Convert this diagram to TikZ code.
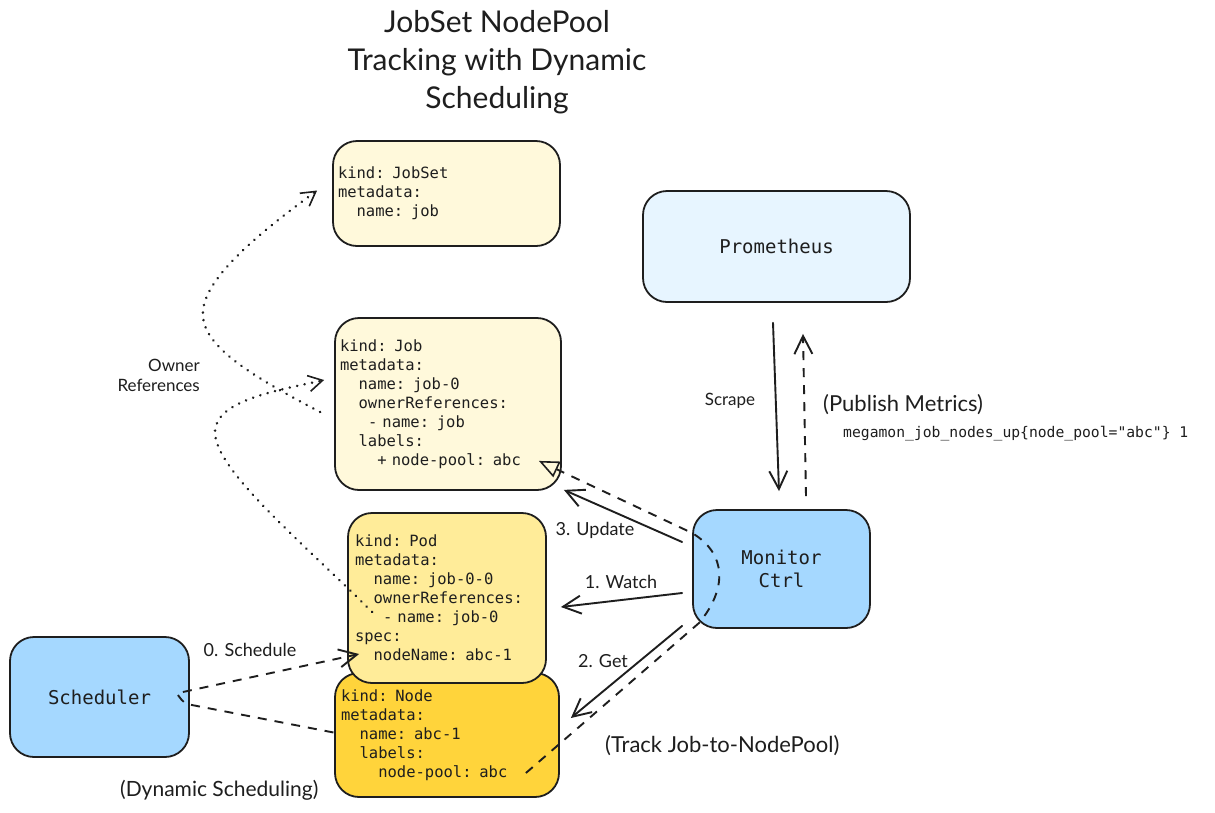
\documentclass[tikz,border=0pt]{standalone}
\usepackage{fontspec}
\setmainfont{Lato}
\setmonofont{DejaVu Sans Mono}
\usetikzlibrary{arrows.meta,calc}
\definecolor{ink}{HTML}{1E1E1E}
\definecolor{paleY}{HTML}{FFF9DB}
\definecolor{midY}{HTML}{FFEC99}
\definecolor{deepY}{HTML}{FFD43B}
\definecolor{paleB}{HTML}{E7F5FF}
\definecolor{midB}{HTML}{A5D8FF}
\newcommand{\indt}[1]{\phantom{#1}}
\tikzset{
  box/.style={draw=ink, line width=1.8pt, rounded corners=24pt, text=ink,
    font=\ttfamily\fontsize{15.5}{19}\selectfont, align=left, inner ysep=0pt},
  cbox/.style={draw=ink, line width=1.8pt, rounded corners=24pt, text=ink,
    font=\ttfamily\fontsize{19}{23.5}\selectfont, align=center, inner sep=0pt},
  hand/.style={text=ink, inner sep=0pt, font=\fontsize{18}{22}\selectfont},
  bighand/.style={text=ink, inner sep=0pt, font=\fontsize{22}{26}\selectfont},
  arr/.style={draw=ink, line width=1.9pt, line cap=round,
    -{Straight Barb[length=18pt,width=18pt,line width=1.9pt]}},
  dasharr/.style={draw=ink, line width=1.9pt, dash pattern=on 9pt off 8pt,
    -{Straight Barb[length=18pt,width=18pt,line width=1.9pt]}},
  dashline/.style={draw=ink, line width=1.9pt, dash pattern=on 9pt off 8pt},
  dotarr/.style={draw=ink, line width=2.7pt, line cap=round, dash pattern=on 0.1pt off 7.5pt,
    -{Straight Barb[length=14pt,width=16pt,line width=1.6pt]}},
}
\begin{document}
\begin{tikzpicture}[x=1pt,y=-1pt]
\useasboundingbox[fill=white] (0,0) rectangle (1215,812);

% title
\node[text=ink, align=center, font=\fontsize{30}{38}\selectfont] (title) at (497,62)
  {JobSet NodePool\\Tracking with Dynamic\\Scheduling};

% boxes
\node[box, fill=paleY, minimum height=105pt, text width=217pt, inner xsep=5pt] (jobset) at (446.5,193.5)
  {kind: JobSet\\metadata:\\\indt{xx}name: job};
\node[box, fill=paleY, minimum height=172pt, text width=216pt, inner xsep=5pt] (job) at (448,404)
  {kind: Job\\metadata:\\\indt{xx}name: job-0\\\indt{xx}ownerReferences:\\\indt{xxx}- name: job\\\indt{xx}labels:\\\indt{xxxx}+ node-pool: abc};
\node[box, fill=deepY, minimum height=124pt, text width=212pt, inner xsep=6pt] (knode) at (447,735)
  {kind: Node\\metadata:\\\indt{xx}name: abc-1\\\indt{xx}labels:\\\indt{xxxx}node-pool: abc};
\node[box, fill=midY, minimum height=170pt, text width=184pt, inner xsep=7pt] (pod) at (447,598)
  {kind: Pod\\metadata:\\\indt{xx}name: job-0-0\\\indt{xx}ownerReferences:\\\indt{xxx}- name: job-0\\spec:\\\indt{xx}nodeName: abc-1};
\node[cbox, fill=paleB, minimum width=267pt, minimum height=111pt] (prom) at (776.5,246.5) {Prometheus};
\node[cbox, fill=midB, minimum width=177pt, minimum height=118pt] (mon) at (781.5,569) {Monitor\\Ctrl};
\node[cbox, fill=midB, minimum width=179pt, minimum height=120pt] (sched) at (99.5,697) {Scheduler};

% Prometheus <-> Monitor
\draw[arr] ($(prom.south)+(-3.5,20)$) -- ($(mon.north)+(-2.5,-18)$);
\draw[dasharr] ($(mon.north)+(24.5,-13)$) -- ($(prom.south)+(26.5,31)$);
\node[hand, font=\fontsize{17}{20}\selectfont] (lscrape) at (730,401) {Scrape};
\node[bighand, anchor=west] (lpub) at (823,405) {(Publish Metrics)};
\node[text=ink, inner sep=0pt, anchor=west, font=\ttfamily\fontsize{14.7}{17}\selectfont] (lmetric) at (843,434)
  {megamon\_job\_nodes\_up\{node\_pool="abc"\} 1};

% Monitor -> Job / Pod / Node
\draw[arr] ($(mon.west)+(-10,-27)$) -- ($(job.south east)+(2,-1)$);
\node[hand] (lupd) at (595,530) {3. Update};
\draw[arr] ($(mon.west)+(-10,24)$) -- ($(pod.east)+(14,9)$);
\node[hand] (lwatch) at (621,582) {1. Watch};
\draw[arr] ($(mon.south west)+(-10,-3)$) -- ($(knode.east)+(11,-17)$);
\node[hand] (lget) at (603,661) {2. Get};

% Track Job-to-NodePool
\draw[draw=ink, line width=1.9pt, dash pattern=on 9pt off 8pt,
  -{Triangle[open,length=20pt,width=17pt,line width=1.6pt]}]
  ($(knode.east)+(-34,38)$) -- ($(mon.south west)+(7,-6)$)
  .. controls ($(mon.west)+(35,20)$) and ($(mon.west)+(35,-15)$) .. ($(mon.west)+(0,-36)$)
  -- ($(job.south east)+(-23,-30)$);
\node[bighand, anchor=west] (ltrack) at (605,746) {(Track Job-to-NodePool)};

% Scheduler
\draw[dasharr] ($(sched.east)+(-7,-5)$) -- ($(pod.west)+(12,56)$);
\node[hand] (lsched) at (250,650) {0. Schedule};
\draw[dashline] ($(sched.east)+(-12,-2)$) .. controls ($(sched.east)+(-6,6)$) .. ($(sched.east)+(2,8)$) -- ($(knode.west)+(2,-2)$);
\node[bighand, font=\fontsize{21}{25}\selectfont, anchor=west] (ldyn) at (120,790) {(Dynamic Scheduling)};

% Owner references
\draw[dotarr] ($(job.west)+(-14,8)$) .. controls (240,370) and (195,340) .. (204,305)
  .. controls (212,270) and (270,225) .. ($(jobset.west)+(-15,-3)$);
\draw[dotarr] ($(pod.west)+(25,14)$) .. controls (300,540) and (215,470) .. (215,432)
  .. controls (215,400) and (280,390) .. ($(job.west)+(-10,-24)$);
\node[hand, font=\fontsize{17}{20}\selectfont, align=right, anchor=east] (lowner) at (200,375) {Owner\\References};

\end{tikzpicture}
\end{document}
